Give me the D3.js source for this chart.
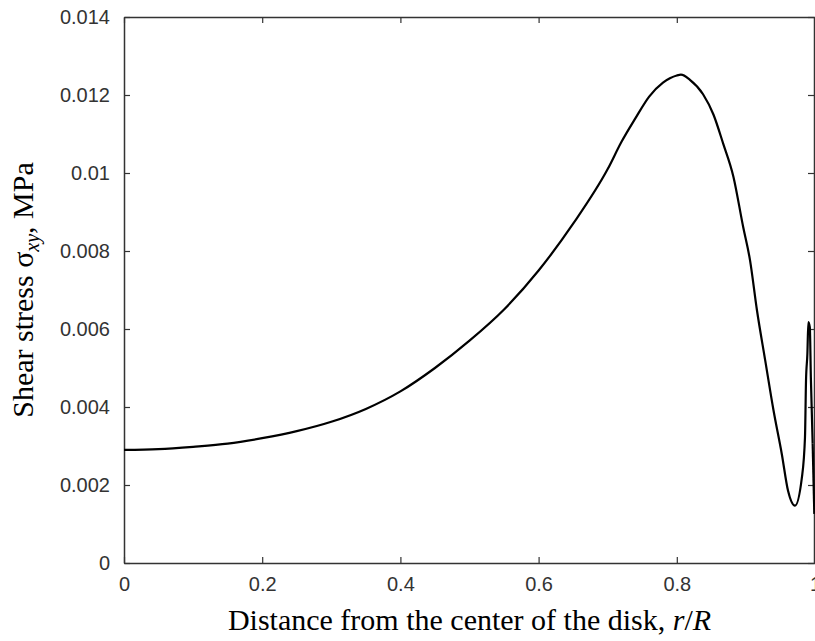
<!DOCTYPE html>
<html>
<head>
<meta charset="utf-8">
<script src="https://cdn.jsdelivr.net/npm/d3@7"></script>
<style>
  html, body { margin: 0; padding: 0; background: #fff; overflow: hidden; }
  .tick text { font-family: Arial, "Liberation Sans", sans-serif; font-size: 20px; fill: #333; }
  .axislabel { font-family: "Times New Roman", "Liberation Serif", serif; font-size: 30px; fill: #000; }
</style>
</head>
<body>
<svg id="chart" width="815" height="641"></svg>
<script>
// radius ratio r/R and shear stress (MPa)
var rRatio = [0, 0.05, 0.1, 0.15, 0.2, 0.25, 0.3, 0.35, 0.4, 0.45, 0.5, 0.55,
    0.6, 0.65, 0.7, 0.72, 0.74, 0.76, 0.78, 0.79, 0.8, 0.806, 0.819, 0.838,
    0.853, 0.867, 0.882, 0.896, 0.906, 0.916, 0.928, 0.94, 0.952, 0.961,
    0.971, 0.981, 0.9855, 0.987, 0.989, 0.9904, 0.9925, 0.994, 0.9966, 0.999];
var shearStress = [0.0029, 0.00292, 0.00298, 0.00306, 0.0032, 0.00338,
    0.00362, 0.00395, 0.0044, 0.005, 0.0057, 0.0065, 0.0075, 0.0087,
    0.0101, 0.0108, 0.0114, 0.01196, 0.01232, 0.01243, 0.0125, 0.01252,
    0.01239, 0.01202, 0.0115, 0.01076, 0.0099, 0.00862, 0.00776, 0.00648,
    0.00519, 0.00391, 0.00279, 0.00185, 0.00147, 0.00219, 0.00322, 0.00468,
    0.00537, 0.00618, 0.00605, 0.00476, 0.00306, 0.00126];
var xTicks = [0, 0.2, 0.4, 0.6, 0.8, 1];
var yTicks = [0, 0.002, 0.004, 0.006, 0.008, 0.01, 0.012, 0.014];

// plot box (window.top is taken, hence the prefix)
var boxLeft = 124, boxRight = 815, boxTop = 17, boxBottom = 563;

var svg = d3.select("#chart");
var x = d3.scaleLinear().domain([0, 1]).range([boxLeft, boxRight]);
var y = d3.scaleLinear().domain([0, 0.014]).range([boxBottom, boxTop]);

function fmt(d) {
    // matlab style labels, no trailing zeros
    return String(+d.toFixed(3));
}

function drawAxes() {
    var g;
    // bottom
    g = svg.append("g").attr("transform", "translate(0," + boxBottom + ")")
            .call(d3.axisBottom(x).tickValues(xTicks).tickFormat(fmt)
                    .tickSizeInner(-6).tickSizeOuter(0).tickPadding(14));
    g.selectAll("text").attr("dy", "0.71em");
    // top, ticks only
    svg.append("g").attr("transform", "translate(0," + boxTop + ")")
            .call(d3.axisTop(x).tickValues(xTicks).tickFormat("")
                    .tickSizeInner(-6).tickSizeOuter(0));
    // left
    svg.append("g").attr("transform", "translate(" + boxLeft + ",0)")
            .call(d3.axisLeft(y).tickValues(yTicks).tickFormat(fmt)
                    .tickSizeInner(-6).tickSizeOuter(0).tickPadding(14));
    // right, ticks only
    svg.append("g").attr("transform", "translate(" + (boxRight - 1) + ",0)")
            .call(d3.axisRight(y).tickValues(yTicks).tickFormat("")
                    .tickSizeInner(-6).tickSizeOuter(0));
    svg.selectAll(".domain").attr("stroke", "#333").attr("stroke-width", 1.5);
    svg.selectAll(".tick line").attr("stroke", "#333").attr("stroke-width", 1.2);
}

function drawCurve() {
    var pts = rRatio.map(function(r, i) {
        return [r, shearStress[i]];
    });
    // smooth until just before the dip, sharp V and jagged spike after
    var iCut = d3.minIndex(shearStress) - 1;
    var smooth = d3.line()
            .x(function(d) { return x(d[0]); })
            .y(function(d) { return y(d[1]); })
            .curve(d3.curveMonotoneX);
    var sharp = d3.line()
            .x(function(d) { return x(d[0]); })
            .y(function(d) { return y(d[1]); });
    svg.append("path").datum(pts.slice(0, iCut + 1)).attr("d", smooth)
            .attr("fill", "none").attr("stroke", "#000")
            .attr("stroke-width", 2.2).attr("stroke-linejoin", "round");
    svg.append("path").datum(pts.slice(iCut)).attr("d", sharp)
            .attr("fill", "none").attr("stroke", "#000")
            .attr("stroke-width", 2.2).attr("stroke-linejoin", "round");
}

function drawLabels() {
    var xl = svg.append("text").attr("class", "axislabel")
            .attr("x", (boxLeft + boxRight) / 2).attr("y", 630)
            .attr("text-anchor", "middle");
    xl.append("tspan").text("Distance from the center of the disk, ");
    xl.append("tspan").attr("font-style", "italic").text("r");
    xl.append("tspan").text("/");
    xl.append("tspan").attr("font-style", "italic").text("R");

    var yl = svg.append("text").attr("class", "axislabel")
            .attr("transform", "translate(33," + (boxTop + boxBottom) / 2 + ") rotate(-90)")
            .attr("text-anchor", "middle");
    yl.append("tspan").text("Shear stress \u03c3");
    yl.append("tspan").attr("font-style", "italic").attr("font-size", "20px")
            .attr("dy", 6).text("xy");
    yl.append("tspan").attr("dy", -6).text(", MPa");
}

drawAxes();
drawCurve();
drawLabels();
</script>
</body>
</html>
